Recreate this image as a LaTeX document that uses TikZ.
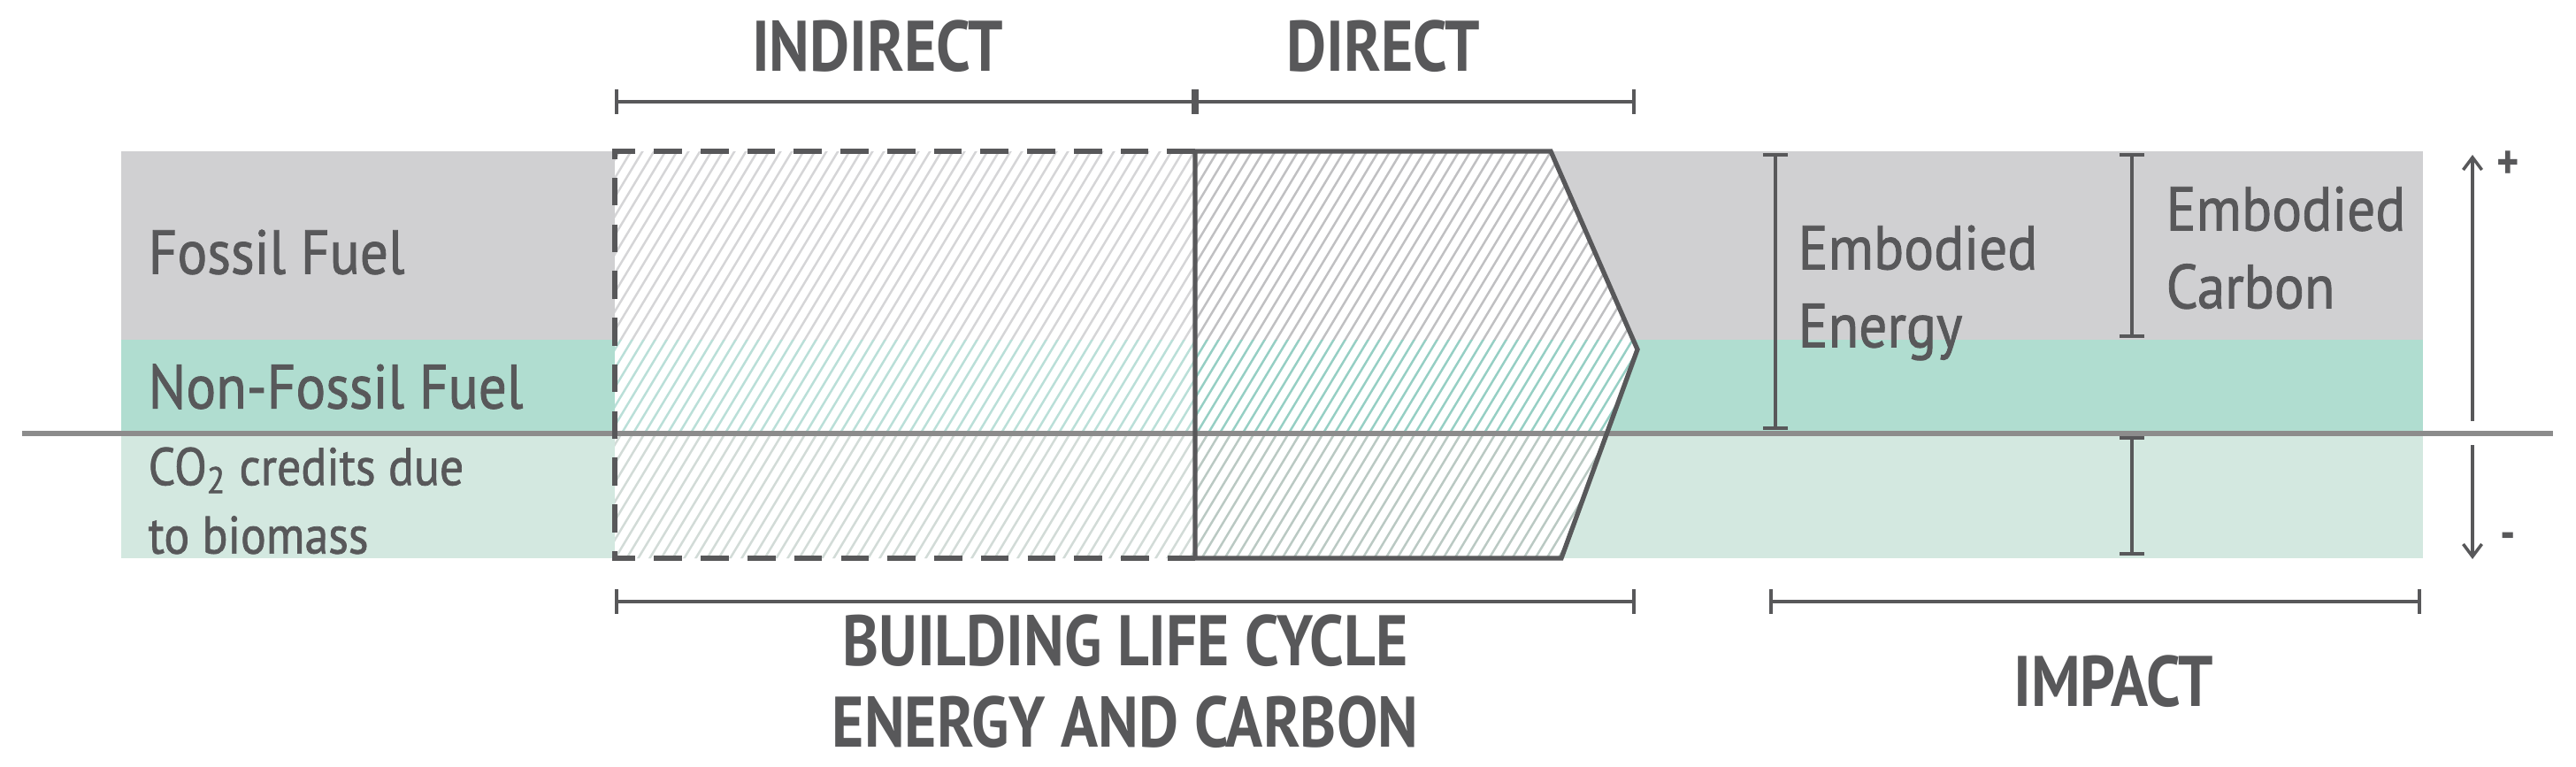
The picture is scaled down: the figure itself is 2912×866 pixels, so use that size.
\documentclass[tikz,border=0pt]{standalone}
\usepackage{fontspec}
\setmainfont{PT Sans}
\newfontfamily\cond[FakeStretch=0.86]{PT Sans}
\newfontfamily\condm[FakeStretch=0.9,FakeBold=1.2]{PT Sans}
\definecolor{ln}{HTML}{58585A}
\definecolor{gband}{HTML}{D0D0D2}
\definecolor{nband}{HTML}{B0DDD0}
\definecolor{lband}{HTML}{D3E8E0}
\definecolor{zl}{HTML}{8C8C8C}
\tikzset{
  lab/.style={font=\condm\fontsize{20}{25}\selectfont, text=ln, anchor=west, inner sep=0pt, align=left},
  head/.style={font=\cond\bfseries\fontsize{23}{26}\selectfont, text=ln, inner sep=0pt, align=center},
  brk/.style={draw=ln, line width=1.2pt, |-|},
  dim/.style={draw=ln, line width=1.2pt, {Bar[width=8pt]}-{Bar[width=8pt]}},
}
\usetikzlibrary{arrows.meta}
\begin{document}
\begin{tikzpicture}[x=0.01cm,y=-0.01cm]
\useasboundingbox (0,0) rectangle (2912,866);
% bands
\fill[gband] (137,171) rectangle (2739,384);
\fill[nband] (137,384) rectangle (2739,490);
\fill[lband] (137,490) rectangle (2739,631);
% polygon interior
\path[fill=white] (695,171) -- (1753,171) -- (1851,395) -- (1765,631) -- (695,631) -- cycle;
\begin{scope}
\clip (695,171) -- (1753,171) -- (1851,395) -- (1765,631) -- (695,631) -- cycle;
\begin{scope}
\clip (0,171) rectangle (2912,384);
\foreach \i in {300,313,...,2000} \draw[gband!80!gray, line width=0.7pt] (\i,640) -- (\i+290,160);
\end{scope}
\begin{scope}
\clip (0,384) rectangle (2912,490);
\foreach \i in {300,313,...,2000} \draw[nband!85!teal, line width=0.7pt] (\i,640) -- (\i+290,160);
\end{scope}
\begin{scope}
\clip (0,490) rectangle (2912,631);
\foreach \i in {300,313,...,2000} \draw[lband!70!gray, line width=0.7pt] (\i,640) -- (\i+290,160);
\end{scope}
\fill[white, opacity=0.35] (695,160) rectangle (1351,640);
\end{scope}
% zero line
\draw[zl, line width=1.5pt] (25,490) -- (2886,490);
% shapes
\draw[ln, line width=1.5pt, dash pattern=on 9pt off 6pt] (1351,171) -- (695,171) -- (695,631) -- (1351,631);
\draw[ln, line width=1.5pt, line join=miter] (1351,171) -- (1753,171) -- (1851,395) -- (1765,631) -- (1351,631) -- cycle;
% coordinates
\coordinate (i1) at (695,115); \coordinate (i2) at (1351,115); \coordinate (i3) at (1849,115);
\coordinate (b1) at (695,680); \coordinate (b2) at (1849,680);
\coordinate (m1) at (2000,680); \coordinate (m2) at (2737,680);
\draw[brk] (i1) -- (i2);
\draw[brk] (i2) -- (i3);
\draw[brk] (b1) -- (b2);
\draw[brk] (m1) -- (m2);
\coordinate (ee1) at (2007,173); \coordinate (ee2) at (2007,486);
\coordinate (ec1) at (2410,173); \coordinate (ec2) at (2410,382);
\coordinate (ec3) at (2410,493); \coordinate (ec4) at (2410,628);
\draw[dim] (ee1) -- (ee2);
\draw[dim] (ec1) -- (ec2);
\draw[dim] (ec3) -- (ec4);
\coordinate (p1) at (2795,476); \coordinate (p2) at (2795,175);
\coordinate (q1) at (2795,503); \coordinate (q2) at (2795,632);
\draw[ln, line width=1pt, -{Straight Barb[length=4pt,width=6pt]}] (p1) -- (p2);
\draw[ln, line width=1pt, -{Straight Barb[length=4pt,width=6pt]}] (q1) -- (q2);
% texts
\node[head] (tind) at (992,52) {INDIRECT};
\node[head] (tdir) at (1564,52) {DIRECT};
\node[head] (tblc) at (1272,770) {BUILDING LIFE CYCLE\\ENERGY AND CARBON};
\node[head] (timp) at (2389,770) {IMPACT};
\node[lab] (ff) at (167,285) {Fossil Fuel};
\node[lab] (nf) at (167,437) {Non-Fossil Fuel};
\node[lab, font=\condm\fontsize{17}{22}\selectfont] (co) at (167,566) {CO\textsubscript{2} credits due\\to biomass};
\node[lab] (eE) at (2032,331) {Embodied\\Energy};
\node[lab] (eC) at (2448,280) {Embodied\\Carbon};
\node[font=\cond\bfseries\fontsize{16}{19}\selectfont, text=ln, inner sep=0pt] (pl) at (2835,187) {+};
\node[font=\cond\bfseries\fontsize{16}{19}\selectfont, text=ln, inner sep=0pt] (mi) at (2835,612) {-};
\end{tikzpicture}
\end{document}
